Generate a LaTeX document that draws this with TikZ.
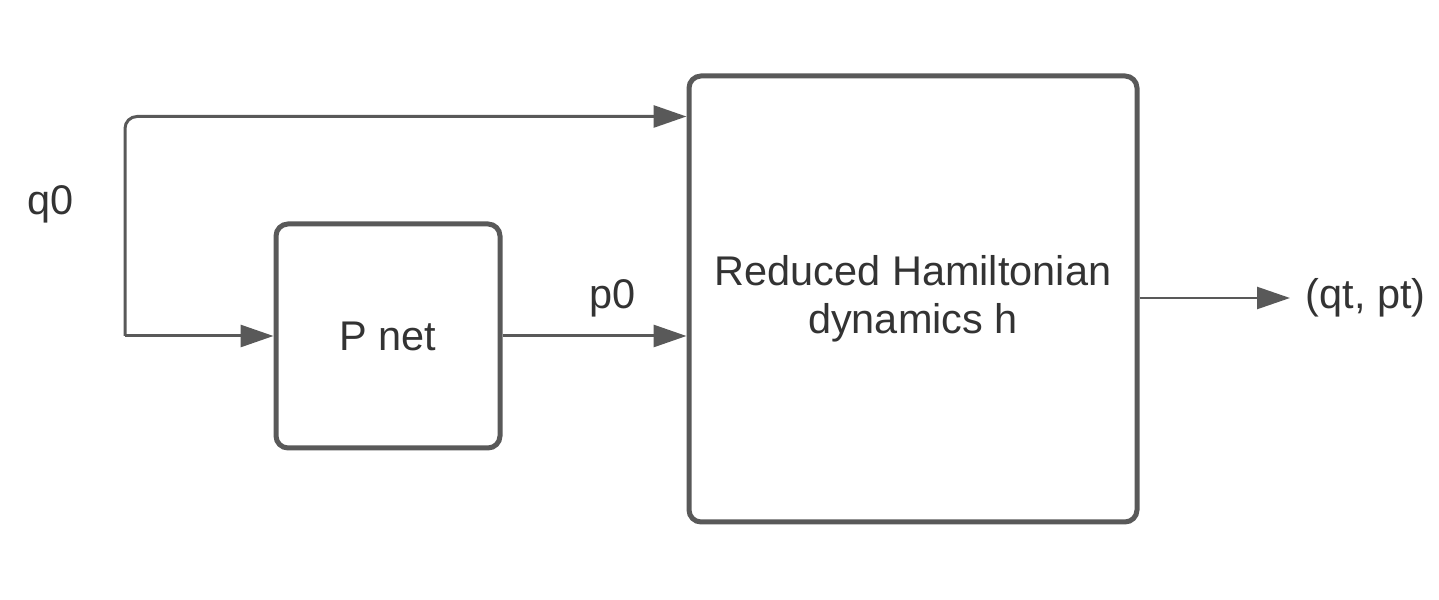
\documentclass[tikz,border=0pt]{standalone}
\usepackage{fontspec}
\setmainfont{Liberation Sans}
\usepackage{xcolor}
\usetikzlibrary{arrows.meta,positioning}
\definecolor{linegray}{HTML}{595959}
\definecolor{textgray}{HTML}{333333}
\tikzset{
    blockbox/.style={draw=linegray, line width=0.05cm, rounded corners=0.12cm, align=center, font=\fontsize{11.8}{13.6}\selectfont, text=textgray},
    flowarrow/.style={-{Triangle[length=0.33cm, width=0.22cm]}, draw=linegray, line width=0.03cm},
    signal/.style={font=\fontsize{11.8}{13.6}\selectfont, text=textgray, inner sep=0pt}
}
\begin{document}
\begin{tikzpicture}
    \useasboundingbox (0,0) rectangle (14.39,6);
    \node[blockbox, minimum width=2.24cm, minimum height=2.24cm] (pnet) at (3.88,2.64) {P net};
    \node[blockbox, minimum width=4.48cm, minimum height=4.46cm] (hdyn) at (9.13,3.01) {Reduced Hamiltonian\\dynamics h};

    \coordinate (qsplit) at (1.25,2.64);
    \node[signal, anchor=base] (qlabel) at (0.51,3.85) {q0};
    \node[signal, anchor=base] (plabel) at (6.13,2.91) {p0};
    \node[signal, anchor=west, inner sep=0.15cm] (result) at (12.90,3.02) {(qt, pt)};

    % q0 goes to both blocks
    \draw[flowarrow, rounded corners=0.12cm] (qsplit) |- ([yshift=-0.43cm]hdyn.north west);
    \draw[flowarrow] (qsplit) -- (pnet.west);
    \draw[flowarrow] (pnet.east) -- (pnet.east -| hdyn.west);
    \draw[flowarrow, line width=0.025cm] (hdyn.east |- result.west) -- (result.west);
\end{tikzpicture}
\end{document}
